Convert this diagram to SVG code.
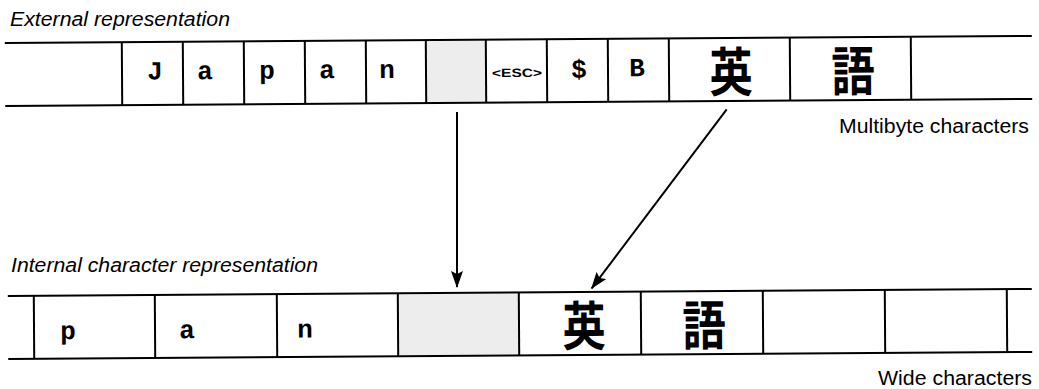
<svg xmlns="http://www.w3.org/2000/svg" width="1039" height="389" viewBox="0 0 1039 389">
<style>
.ln{stroke:#000;stroke-width:2;fill:none}
.grey{fill:#ededed;stroke:none}
.mono{font-family:"Liberation Mono","Courier New",monospace;font-weight:bold;font-size:26px;text-anchor:middle;fill:#000}
.cjk{font-family:"Noto Sans CJK JP","Noto Sans CJK SC",sans-serif;font-weight:700;font-size:53px;text-anchor:middle;fill:#000}
.esc{font-family:"Liberation Sans",Arial,sans-serif;font-weight:bold;font-size:12px;text-anchor:middle;fill:#000}
.lbl{font-family:"Liberation Sans",Arial,sans-serif;font-size:20px;fill:#000}
.it{font-style:italic}
.arrow{stroke:#000;stroke-width:2;fill:none;marker-end:url(#ah)}
</style>
<defs>
<marker id="ah" markerUnits="userSpaceOnUse" viewBox="0 0 17 12" refX="16" refY="6" markerWidth="17" markerHeight="12" orient="auto">
<path d="M0,0 L17,6 L0,12 L3,6 z" fill="#000"/>
</marker>
</defs>
<rect width="1039" height="389" fill="#fff"/>

<text id="lbl-external" class="lbl it" x="10" y="26" textLength="220" lengthAdjust="spacingAndGlyphs">External representation</text>
<text id="lbl-multibyte" class="lbl" x="839" y="133" textLength="190" lengthAdjust="spacingAndGlyphs">Multibyte characters</text>
<text id="lbl-internal" class="lbl it" x="11" y="272" textLength="307" lengthAdjust="spacingAndGlyphs">Internal character representation</text>
<text id="lbl-wide" class="lbl" x="878" y="385" textLength="154" lengthAdjust="spacingAndGlyphs">Wide characters</text>

<g id="external-row" transform="rotate(-0.39 518 71)">
  <rect class="grey" x="426" y="40.5" width="60" height="61"/>
  <line class="ln" x1="5" y1="39.5" x2="1032" y2="39.5"/>
  <line class="ln" x1="5" y1="102.5" x2="1032" y2="102.5"/>
  <g id="ext-cell-empty-left"></g>
  <g id="ext-cell-J"><line class="ln" x1="122" y1="39.5" x2="122" y2="102.5"/><text class="mono" x="155" y="77">J</text></g>
  <g id="ext-cell-a1"><line class="ln" x1="183" y1="39.5" x2="183" y2="102.5"/><text class="mono" x="205" y="77">a</text></g>
  <g id="ext-cell-p"><line class="ln" x1="244" y1="39.5" x2="244" y2="102.5"/><text class="mono" x="267" y="77">p</text></g>
  <g id="ext-cell-a2"><line class="ln" x1="305" y1="39.5" x2="305" y2="102.5"/><text class="mono" x="327" y="77">a</text></g>
  <g id="ext-cell-n"><line class="ln" x1="366" y1="39.5" x2="366" y2="102.5"/><text class="mono" x="387" y="77">n</text></g>
  <g id="ext-cell-space"><line class="ln" x1="426" y1="39.5" x2="426" y2="102.5"/></g>
  <g id="ext-cell-esc"><line class="ln" x1="486" y1="39.5" x2="486" y2="102.5"/><text class="esc" x="517" y="77" textLength="50" lengthAdjust="spacingAndGlyphs">&lt;ESC&gt;</text></g>
  <g id="ext-cell-dollar"><line class="ln" x1="547" y1="39.5" x2="547" y2="102.5"/><text class="mono" x="579" y="78">$</text></g>
  <g id="ext-cell-B"><line class="ln" x1="608" y1="39.5" x2="608" y2="102.5"/><text class="mono" x="637" y="77">B</text></g>
  <g id="ext-cell-ei"><line class="ln" x1="669" y1="39.5" x2="669" y2="102.5"/><text class="cjk" transform="translate(731 93) scale(0.82 1)">英</text></g>
  <g id="ext-cell-go"><line class="ln" x1="790" y1="39.5" x2="790" y2="102.5"/><text class="cjk" transform="translate(853 93) scale(0.82 1)">語</text></g>
  <g id="ext-cell-empty-right"><line class="ln" x1="911" y1="39.5" x2="911" y2="102.5"/></g>
</g>

<g id="internal-row" transform="rotate(-0.39 520 324)">
  <rect class="grey" x="398" y="293.5" width="121" height="61"/>
  <line class="ln" x1="8" y1="292.5" x2="1032" y2="292.5"/>
  <line class="ln" x1="8" y1="355.5" x2="1032" y2="355.5"/>
  <g id="int-cell-p"><line class="ln" x1="34" y1="292.5" x2="34" y2="355.5"/><text class="mono" x="68" y="336">p</text></g>
  <g id="int-cell-a"><line class="ln" x1="155" y1="292.5" x2="155" y2="355.5"/><text class="mono" x="187" y="336">a</text></g>
  <g id="int-cell-n"><line class="ln" x1="277" y1="292.5" x2="277" y2="355.5"/><text class="mono" x="305" y="336">n</text></g>
  <g id="int-cell-space"><line class="ln" x1="398" y1="292.5" x2="398" y2="355.5"/></g>
  <g id="int-cell-ei"><line class="ln" x1="519" y1="292.5" x2="519" y2="355.5"/><text class="cjk" transform="translate(584 346) scale(0.82 1)">英</text></g>
  <g id="int-cell-go"><line class="ln" x1="641" y1="292.5" x2="641" y2="355.5"/><text class="cjk" transform="translate(704 346) scale(0.82 1)">語</text></g>
  <g id="int-cell-empty1"><line class="ln" x1="763" y1="292.5" x2="763" y2="355.5"/></g>
  <g id="int-cell-empty2"><line class="ln" x1="885" y1="292.5" x2="885" y2="355.5"/></g>
  <g id="int-cell-empty3"><line class="ln" x1="1007" y1="292.5" x2="1007" y2="355.5"/></g>
</g>

<g id="connectors">
  <line class="arrow" x1="457" y1="112" x2="457" y2="287"/>
  <line class="arrow" x1="726.7" y1="109.3" x2="591.7" y2="288.3"/>
</g>
</svg>
